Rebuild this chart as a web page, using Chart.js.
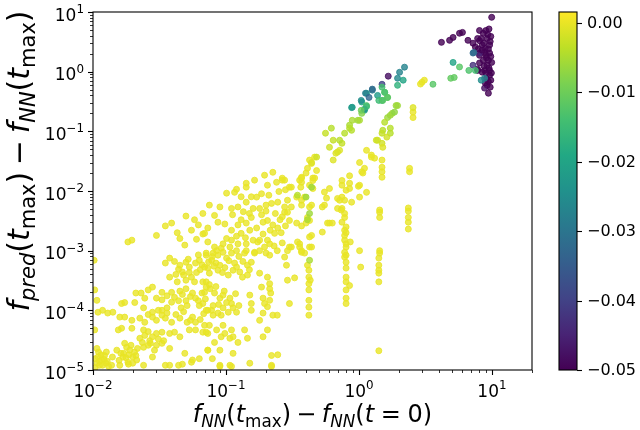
<!DOCTYPE html>
<html><head><meta charset="utf-8">
<script src="https://cdn.jsdelivr.net/npm/chart.js@4.4.1/dist/chart.umd.min.js"></script>
<style>html,body{margin:0;padding:0;background:#fff;}canvas{display:block}</style>
</head><body>
<canvas id="c" width="640" height="430"></canvas>
<script>
const xTickValues = [0.01, 0.1, 1, 10];
const xTickLabels = [['10', '−2'], ['10', '−1'], ['10', '0'], ['10', '1']];
const yTickValues = [1e-5, 1e-4, 1e-3, 1e-2, 1e-1, 1, 10];
const yTickLabels = [['10', '−5'], ['10', '−4'], ['10', '−3'], ['10', '−2'], ['10', '−1'], ['10', '0'], ['10', '1']];
const colorTickValues = [0, -0.01, -0.02, -0.03, -0.04, -0.05];
const colorTickLabels = ['0.00', '−0.01', '−0.02', '−0.03', '−0.04', '−0.05'];
const colorMin = -0.05, colorMax = 0.0016;
const yellowValue = 0;

// points with colour value ~0 : [x, y]
const yellowPts = [
[0.0377,7.5e-4],[0.035,6.2e-4],[0.045,5.7e-4],[0.050,6.4e-4],[0.053,5.3e-4],[0.059,6.2e-4],[0.063,6.9e-4],[0.071,8.4e-4],[0.069,5.3e-4],[0.047,4.4e-4],[0.053,4.3e-4],[0.060,4.3e-4],[0.0377,3.6e-4],[0.043,3.0e-4],[0.050,3.2e-4],[0.058,3.0e-4],[0.067,3.0e-4],[0.071,2.45e-4],[0.028,2.45e-4],[0.033,2.0e-4],[0.039,2.0e-4],[0.045,2.1e-4],[0.050,2.3e-4],[0.056,1.95e-4],[0.066,1.95e-4],[0.021,1.95e-4],[0.023,1.95e-4],[0.0245,1.6e-4],[0.030,1.6e-4],[0.033,1.5e-4],[0.039,1.37e-4],[0.044,1.45e-4],[0.050,1.45e-4],[0.059,1.6e-4],[0.067,1.3e-4],[0.0164,1.3e-4],[0.0173,1.35e-4],[0.0206,1.35e-4],[0.024,1.1e-4],[0.028,9.3e-5],[0.031,1.0e-4],[0.033,1.0e-4],[0.036,1.1e-4],[0.046,1.1e-4],[0.051,1.2e-4],[0.063,1.2e-4],[0.073,1.0e-4],
[0.0109,9.3e-5],[0.0118,1.0e-4],[0.0129,9.0e-5],[0.0141,9.3e-5],[0.0159,7.7e-5],[0.0173,7.7e-5],[0.0196,6.8e-5],[0.0225,7.4e-5],[0.0245,6.3e-5],[0.028,7.7e-5],[0.033,8.3e-5],[0.035,7.4e-5],[0.039,6.3e-5],[0.045,7.4e-5],[0.051,6.3e-5],[0.056,7.7e-5],[0.059,6.3e-5],[0.069,5.6e-5],[0.0107,1.47e-4],[0.0103,2.2e-4],
[0.0155,4.7e-5],[0.0164,5.0e-5],[0.0196,5.0e-5],[0.024,4.7e-5],[0.0245,3.8e-5],[0.0225,3.4e-5],[0.0267,3.1e-5],[0.030,4.1e-5],[0.033,4.3e-5],[0.034,3.1e-5],[0.0377,4.1e-5],[0.041,4.3e-5],[0.045,3.6e-5],[0.053,4.7e-5],[0.059,4.7e-5],[0.067,4.3e-5],[0.073,4.1e-5],[0.0103,4.7e-5],
[0.0179,2.4e-5],[0.0189,2.15e-5],[0.0168,1.65e-5],[0.0151,2.15e-5],[0.0199,1.65e-5],[0.0213,1.47e-5],[0.0183,1.35e-5],[0.0216,2.3e-5],[0.024,2.4e-5],[0.026,2.6e-5],[0.029,2.15e-5],[0.033,2.8e-5],[0.0377,2.3e-5],[0.049,1.9e-5],[0.0107,2.3e-5],[0.014,1.65e-5],[0.0109,1.65e-5],[0.0116,1.47e-5],[0.0122,1.75e-5],[0.0107,1.3e-5],[0.0112,1.2e-5],[0.0125,1.3e-5],[0.028,1.65e-5],[0.035,1.2e-5],[0.0377,1.2e-5],[0.044,1.2e-5],[0.073,2.15e-5],[0.056,1.47e-5],[0.063,1.55e-5],[0.0138,1.2e-5],[0.0159,1.2e-5],[0.024,1.2e-5],[0.0199,1.3e-5],[0.047,1.25e-5],[0.055,1.35e-5],[0.090,1.15e-5],[0.11,1.15e-5],[0.151,1.3e-5],[0.22,1.2e-5],
[0.071,9.1e-4],[0.078,6.9e-4],[0.087,8.4e-4],[0.095,9.4e-4],[0.101,7.5e-4],[0.11,9.1e-4],[0.116,6.2e-4],[0.090,5.7e-4],[0.073,5.1e-4],[0.075,4.2e-4],[0.087,4.7e-4],[0.104,3.9e-4],[0.113,4.7e-4],[0.127,4.4e-4],[0.145,3.9e-4],[0.145,5.7e-4],[0.155,6.4e-4],[0.138,9.1e-4],[0.164,9.1e-4],[0.2,9.1e-4],[0.213,8.4e-4],[0.276,7.8e-4],[0.285,5.7e-4],[0.179,4.2e-4],[0.29,3.2e-4],[0.328,3.5e-4],[0.39,9.1e-4],[0.41,5.7e-4],[0.42,4.7e-4],[0.42,3.6e-4],[0.42,2.8e-4],[0.42,2.2e-4],[0.42,1.47e-4],[0.42,1.13e-4],[0.42,8.3e-5],[0.30,1.3e-4],[0.205,3.6e-4],[0.213,2.8e-4],[0.213,2.3e-4],[0.217,1.95e-4],[0.213,1.47e-4],[0.205,1.15e-4],[0.225,8.3e-5],[0.243,8.3e-5],[0.185,2.45e-4],[0.19,1.6e-4],[0.195,1.3e-4],[0.19,9e-5],[0.179,6.8e-5],[0.205,4.7e-5],[0.19,3.6e-5],[0.071,3.0e-4],[0.075,2.7e-4],[0.069,2.0e-4],[0.082,1.95e-4],[0.09,1.6e-4],[0.095,1.8e-4],[0.107,1.6e-4],[0.11,1.3e-4],[0.113,1.1e-4],[0.12,9.3e-5],[0.104,9.3e-5],[0.092,8.3e-5],[0.087,9e-5],[0.08,8.3e-5],[0.078,1.0e-4],[0.071,1.0e-4],[0.075,5.6e-5],[0.071,4.3e-5],[0.085,4.7e-5],[0.095,5.6e-5],[0.098,4.1e-5],[0.11,4.7e-5],[0.113,3.6e-5],[0.123,2.9e-5],[0.138,4.7e-5],[0.145,3.4e-5],[0.151,1.8e-4],[0.155,1.3e-4],[0.155,1.0e-4],[0.082,2.9e-5],[0.092,3.6e-5],[0.107,3.4e-5],[0.073,2.15e-5],[0.09,2.15e-5],[0.079,1.55e-5],[0.113,1.9e-5],[0.22,1.75e-5],[0.245,1.8e-5],[0.09,1.2e-5],[0.107,1.2e-5],[0.22,1.15e-5],
[0.195,0.0184],[0.225,0.0206],[0.142,0.0135],[0.142,0.0116],[0.164,0.0152],[0.205,0.0125],[0.24,0.014],[0.265,0.0152],[0.116,9.5e-3],[0.101,9.2e-3],[0.17,7.9e-3],[0.142,6.5e-3],[0.123,5.4e-3],[0.11,5.1e-3],[0.09,5.4e-3],[0.075,5.8e-3],[0.067,4.2e-3],[0.082,3.9e-3],[0.087,3.0e-3],[0.098,2.8e-3],[0.11,2.2e-3],[0.123,2.7e-3],[0.05,3.8e-3],[0.039,2.9e-3],[0.035,2.6e-3],[0.073,2.4e-3],[0.067,1.9e-3],[0.06,1.55e-3],[0.049,1.24e-3],[0.073,1.4e-3],[0.16,5.1e-3],[0.179,5.1e-3],[0.20,5.8e-3],[0.22,6.2e-3],[0.245,6.5e-3],[0.276,5.4e-3],[0.29,4.4e-3],[0.30,3.2e-3],[0.155,3.6e-3],[0.142,2.9e-3],[0.13,1.95e-3],[0.151,2.2e-3],[0.17,2.4e-3],[0.19,3.0e-3],[0.205,3.2e-3],[0.225,2.7e-3],[0.232,1.95e-3],[0.205,1.5e-3],[0.179,1.5e-3],[0.16,1.5e-3],[0.142,1.3e-3],[0.11,1.5e-3],[0.101,1.6e-3],[0.092,1.1e-3],[0.107,1.15e-3],[0.12,1.0e-3],[0.082,1.15e-3],[0.08,9.1e-4],[0.179,1.0e-3],[0.243,1.0e-3],[0.265,1.35e-3],[0.29,1.0e-3],[0.0196,1.5e-3],[0.0183,1.4e-3],[0.31,0.0116],[0.358,0.0152],[0.37,7.0e-3],[0.425,5.4e-3],[0.34,2.9e-3],[0.37,2.6e-3],[0.425,3.2e-3],[0.31,1.15e-3],[0.345,1.4e-3],[0.358,1.15e-3],[0.37,9.4e-4],[0.425,1.7e-3],[0.44,1.15e-3],[0.069,1.95e-3],[0.095,1.3e-3],[0.085,1.0e-3],[0.123,1.3e-3],[0.173,1.4e-3],[0.213,1.3e-3],[0.142,1.0e-3],[0.164,9.4e-4],[0.0102,6.9e-4],[0.265,3.7e-3],
[1.14,0.048],[1.24,0.040],[1.31,0.0355],[1.49,0.033],[1.49,0.025],[1.49,0.021],[1.49,0.017],[1.01,0.030],[1.10,0.024],[1.05,0.021],[1.01,0.0125],[1.14,9.5e-3],[1.01,7.9e-3],[0.85,0.0135],[0.80,0.0103],[0.745,7.9e-3],[0.715,7.0e-3],[0.69,5.1e-3],[0.78,3.6e-3],[0.745,3.0e-3],[0.80,2.5e-3],[0.80,2.0e-3],[0.78,1.5e-3],[0.80,1.15e-3],[0.80,8.4e-4],[0.60,0.011],[0.55,9.6e-3],[0.57,7.6e-3],[0.53,5.4e-3],[0.60,2.9e-3],[0.53,2.05e-3],[1.01,1.0e-3],[1.43,4.4e-3],[1.43,3.6e-3],[1.43,9.1e-4],[0.41,0.024],[0.45,0.0165],[0.40,0.020],[0.37,0.0165],[0.365,0.0116],[0.34,7.9e-3],[0.39,7.9e-3],[0.37,5.8e-3],[0.41,3.6e-3],[0.40,2.9e-3],[0.31,5.4e-3],[0.29,7.0e-3],[0.276,4.4e-3],[0.276,0.0152],[0.358,1.3e-3],[0.37,1.0e-3],[0.425,1.15e-3],[0.30,1.15e-3],
[1.43,4.8e-3],[1.43,1.0e-3],[1.41,7.5e-4],[1.41,5.7e-4],[1.41,4.7e-4],[1.41,4.2e-4],[1.41,3.0e-4],[1.41,2.1e-5],[2.35,5.2e-3],[2.35,4.6e-3],[2.35,3.6e-3],[2.35,3.0e-3],[2.35,2.3e-3],[0.78,7.0e-3],[0.745,5.1e-3],[0.78,4.2e-3],[0.78,2.2e-3],[0.78,1.8e-3],[0.80,1.3e-3],[0.78,9.4e-4],[0.78,7.8e-4],[0.80,6.4e-4],[0.80,5.1e-4],[0.80,3.6e-4],[0.80,3.0e-4],[0.80,2.2e-4],[0.80,1.6e-4],[0.80,1.3e-4],[0.85,2.6e-4],[0.86,1.4e-3],[0.88,6.5e-3],[1.03,5.3e-4],[0.99,0.012],[0.55,5.8e-3],[0.58,2.9e-3],[0.63,2.9e-3],[0.44,5.8e-3],[0.44,1.8e-3],[0.43,3.2e-4],[0.69,7.5e-3],[0.735,4.8e-3],[0.85,0.011],[0.745,0.0125],
[2.98,0.665],[2.9,0.62],[3.1,0.72],[2.55,0.21],[2.55,0.17],[2.4,0.024],[2.4,0.021],[0.425,0.033],[0.464,0.037],[0.48,0.022],[0.45,0.015],[1.24,0.037],[1.07,0.02],[0.85,0.018],[0.745,0.015],
[0.0104,1.1e-5],[0.0112,1.4e-5],[0.0118,1.2e-5],[0.0104,1.55e-5],[0.0115,1.8e-5],[0.0121,1.5e-5],[0.0128,1.4e-5],[0.0131,1.15e-5],[0.0110,2.0e-5],[0.0126,2.0e-5],
[0.0170,1.9e-5],[0.0177,1.6e-5],[0.0186,1.8e-5],[0.0193,2.6e-5],[0.0205,2.0e-5],[0.0173,2.8e-5],[0.0185,1.25e-5],[0.0210,1.75e-5],[0.0157,1.45e-5],[0.0162,1.9e-5],
[0.026,4.4e-5],[0.028,3.6e-5],[0.031,3.3e-5],[0.027,2.8e-5],[0.030,2.6e-5],[0.0235,2.9e-5],
[0.041,6.6e-4],[0.044,4.9e-4],[0.048,3.9e-4],[0.052,7.2e-4],[0.055,3.6e-4],[0.042,4.0e-4],[0.062,8.5e-4],[0.066,5.8e-4],[0.074,6.5e-4],[0.064,4.8e-4],
[0.026,2.2e-4],[0.036,1.75e-4],[0.041,1.65e-4],[0.047,1.85e-4],[0.054,1.7e-4],[0.062,1.45e-4],[0.070,1.55e-4],[0.036,9.0e-5],[0.042,8.5e-5],[0.048,9.5e-5],[0.054,6.8e-5],[0.064,7.0e-5],[0.068,8.8e-5],[0.030,6.8e-5],[0.026,8.5e-5],
[0.079,8.0e-4],[0.084,6.2e-4],[0.098,5.2e-4],[0.105,6.8e-4],[0.094,4.3e-4],[0.081,5.5e-4],[0.125,8.0e-4],[0.134,6.6e-4],[0.12,5.3e-4],[0.133,3.6e-4],[0.15,4.8e-4],
[0.076,2.3e-4],[0.084,2.5e-4],[0.097,2.1e-4],[0.101,1.35e-4],[0.088,1.25e-4],[0.095,1.1e-4],[0.118,1.9e-4],[0.125,1.2e-4],[0.08,1.2e-4],
[0.112,4.0e-3],[0.13,3.3e-3],[0.135,4.5e-3],[0.15,4.2e-3],[0.185,4.0e-3],[0.2,4.6e-3],[0.235,4.2e-3],[0.255,3.3e-3],[0.12,1.75e-3],[0.14,1.65e-3],[0.19,1.9e-3],[0.215,2.2e-3],[0.245,2.4e-3],[0.26,2.0e-3],[0.28,2.6e-3],[0.195,1.15e-3],[0.23,1.2e-3],[0.155,8.0e-3],[0.185,9.0e-3],[0.21,8.5e-3],[0.25,9.8e-3],[0.28,0.0105],[0.13,8.0e-3],
[0.045,1.6e-3],[0.055,2.2e-3],[0.058,3.3e-3],[0.062,2.7e-3],[0.043,2.0e-3],[0.03,1.8e-3],
[0.265,0.0164],[0.37,0.017],[0.44,0.029],[0.37,0.014],[0.425,0.0125],[0.464,0.0165],[0.30,0.0116],[0.12,0.0107],[0.45,0.011]
];

// points with a colour value: [x, y, value]
const colorPts = [
[1.14,0.435,-0.022],[1.26,0.49,-0.03],[1.38,0.40,-0.022],[1.49,0.33,-0.016],[1.56,0.45,-0.013],[1.64,0.37,-0.01],[1.9,0.27,-0.006],[1.78,0.20,-0.006],[1.64,0.17,-0.006],[1.56,0.142,-0.004],[1.51,0.104,-0.004],[1.72,0.113,-0.004],[1.49,0.093,-0.003],[1.72,0.093,-0.004],[1.35,0.071,-0.002],[1.49,0.063,-0.002],[1.51,0.054,-0.001],
[1.05,0.31,-0.02],[1.14,0.27,-0.012],[1.1,0.225,-0.02],[1.05,0.20,-0.008],[0.98,0.153,-0.006],[0.89,0.153,-0.005],[0.85,0.127,-0.005],[0.88,0.104,-0.004],[0.89,0.253,-0.022],[0.78,0.093,-0.004],[0.745,0.063,-0.003],[0.715,0.071,-0.004],[0.62,0.113,-0.004],[0.56,0.093,-0.003],[0.64,0.071,-0.003],[0.69,0.045,-0.002],[0.64,0.033,-0.001],[0.48,0.037,-0.002],[0.44,0.030,-0.001],[0.60,0.054,-0.002],
[0.425,6.9e-4,-0.005],[0.345,8.5e-3,-0.004],[0.40,7.9e-3,-0.006],[0.44,0.0116,-0.006],[0.425,4.2e-3,-0.006],[0.41,3.3e-3,-0.005],
[3.6,0.615,-0.012],[4.9,0.775,-0.011],[5.2,0.80,-0.011],[2.2,1.19,-0.027],[2.02,0.977,-0.027],[1.66,0.84,-0.048],[1.95,0.775,-0.026],[1.49,0.615,-0.04],[1.26,0.51,-0.032],[1.12,0.435,-0.028],[1.19,0.37,-0.033],[1.04,0.33,-0.025],[0.88,0.25,-0.022],[1.1,0.235,-0.024],[1.49,0.55,-0.014],[1.56,0.45,-0.013],[1.64,0.37,-0.012],[1.41,0.33,-0.015],[1.51,0.33,-0.012],[1.95,0.59,-0.017],[2.15,0.72,-0.02],[2.55,0.25,-0.001],[1.95,0.27,-0.006],[1.72,0.186,-0.006],[1.85,0.21,-0.007],[1.14,0.26,-0.015],[1.04,0.225,-0.01],[1.01,0.153,-0.005],[0.85,0.113,-0.004],[1.38,0.071,-0.002],[1.62,0.08,-0.002],[0.67,0.043,-0.001],[0.715,0.048,-0.001],
[9.95,8.15,-0.05],[8.06,4.9,-0.05],[9.0,4.9,-0.05],[7.8,3.6,-0.05],[8.3,3.6,-0.05],[9.2,3.6,-0.05],[8.45,2.8,-0.05],[9.6,2.8,-0.05],[8.8,2.1,-0.05],[9.6,2.05,-0.05],[9.1,1.7,-0.05],[9.95,1.43,-0.05],[9.2,1.28,-0.05],[8.8,1.05,-0.05],[9.6,1.05,-0.05],[9.6,0.87,-0.05],[9.1,0.775,-0.05],[9.2,0.59,-0.05],[9.4,0.435,-0.05],[8.06,3.3,-0.05],[8.6,1.55,-0.05],[8.9,2.45,-0.05],[9.8,0.72,-0.05],[8.8,0.53,-0.048],[8.06,1.4,-0.05],[7.8,1.1,-0.05],[4.17,3.1,-0.05],[4.8,3.35,-0.05],[5.1,3.75,-0.05],[5.7,4.4,-0.05],[6.0,4.55,-0.05],[6.6,3.35,-0.05],[7.2,3.0,-0.05],[8.06,1.88,-0.05],[8.45,0.98,-0.05],[8.06,2.05,-0.045],[7.8,1.05,-0.05],
[9.3,4.2,-0.05],[9.7,3.2,-0.05],[8.7,3.0,-0.05],[9.4,2.4,-0.05],[8.4,2.3,-0.05],[9.0,1.9,-0.05],[9.8,1.8,-0.05],[9.4,1.55,-0.05],[8.7,1.25,-0.05],[9.5,1.15,-0.05],[9.0,0.95,-0.05],[9.9,0.95,-0.05],[9.4,0.68,-0.05],[8.9,0.65,-0.05],[9.7,0.55,-0.05],[9.5,5.2,-0.05],[8.6,4.4,-0.05],[9.8,3.9,-0.05],[7.5,2.6,-0.05],[7.9,2.4,-0.05],
[7.3,2.1,-0.032],[7.2,1.28,-0.043],[6.7,1.05,-0.013],[7.5,1.05,-0.014],[5.7,1.2,-0.012],[5.1,1.43,-0.02],[8.3,0.72,-0.025],[7.2,2.05,-0.032],[8.8,0.775,-0.028]
];

const VIR = [[68,1,84],[72,36,117],[65,68,135],[53,95,141],[42,120,142],[33,145,140],[34,168,132],[68,191,112],[122,209,81],[189,223,38],[253,231,37]];
function viridis(t){
  t = Math.max(0, Math.min(1, t));
  const s = t * 10, i = Math.min(9, Math.floor(s)), f = s - i, a = VIR[i], b = VIR[i + 1];
  return [0,1,2].map(k => Math.round(a[k] + (b[k] - a[k]) * f));
}
function colorFor(v, alpha){
  const c = viridis((v - colorMin) / (colorMax - colorMin));
  return 'rgba(' + c.join(',') + ',' + alpha + ')';
}

const points = yellowPts.map(p => ({x: p[0], y: p[1], c: yellowValue}))
  .concat(colorPts.map(p => ({x: p[0], y: p[1], c: p[2]})));

const FONT = '"DejaVu Sans", "Liberation Sans", sans-serif';

// mathtext-like label: segments [text, style]; style: r regular, i italic, sr/si subscript, sp: space in em
function drawMath(ctx, segs, size, cx, baseline, rotate){
  const fontFor = s => {
    const sub = s[0] === 's', it = s[s.length - 1] === 'i';
    return (it ? 'italic ' : '') + (sub ? size * 0.7 : size) + 'px ' + FONT;
  };
  const widths = segs.map(([t, s]) => {
    if (s === 'sp') return t * size;
    ctx.font = fontFor(s); return ctx.measureText(t).width;
  });
  const w = widths.reduce((p, q) => p + q, 0);
  ctx.save();
  if (rotate) { ctx.translate(baseline, cx); ctx.rotate(-Math.PI / 2); }
  else { ctx.translate(cx, baseline); }
  ctx.fillStyle = '#000';
  ctx.textAlign = 'left';
  ctx.textBaseline = 'alphabetic';
  let x = -w / 2;
  segs.forEach(([t, s], i) => {
    if (s !== 'sp') {
      ctx.font = fontFor(s);
      const dy = s[0] === 's' ? size * 0.2 : 0;
      ctx.fillText(t, x, dy);
    }
    x += widths[i];
  });
  ctx.restore();
}

function drawPow(ctx, base, exp, size, x, baseline, align){
  ctx.font = size + 'px ' + FONT;
  const wb = ctx.measureText(base).width;
  const es = size * 0.7;
  ctx.font = es + 'px ' + FONT;
  const we = ctx.measureText(exp).width;
  const w = wb + we;
  const x0 = align === 'right' ? x - w : x - w / 2;
  ctx.textAlign = 'left';
  ctx.textBaseline = 'alphabetic';
  ctx.font = size + 'px ' + FONT;
  ctx.fillText(base, x0, baseline);
  ctx.font = es + 'px ' + FONT;
  ctx.fillText(exp, x0 + wb, baseline - size * 0.45);
}

const decor = {
  id: 'decor',
  afterDatasetsDraw(chart){
    const ctx = chart.ctx, a = chart.chartArea, xs = chart.scales.x, ys = chart.scales.y;
    ctx.save();
    ctx.strokeStyle = '#000';
    ctx.fillStyle = '#000';
    const tickSet = (scale, horiz) => {
      const lo = Math.floor(Math.log10(scale.min)), hi = Math.ceil(Math.log10(scale.max));
      for (let d = lo; d <= hi; d++) {
        for (let m = 1; m <= 9; m++) {
          const v = m * Math.pow(10, d);
          if (v < scale.min * 0.9999 || v > scale.max * 1.0001) continue;
          const major = m === 1;
          const len = major ? 5 : 3;
          ctx.lineWidth = major ? 1.1 : 0.8;
          const p = Math.round(scale.getPixelForValue(v)) + 0.5;
          ctx.beginPath();
          if (horiz) { ctx.moveTo(p, a.bottom); ctx.lineTo(p, a.bottom + len); }
          else { ctx.moveTo(a.left, p); ctx.lineTo(a.left - len, p); }
          ctx.stroke();
        }
      }
    };
    tickSet(xs, true);
    tickSet(ys, false);
    ctx.lineWidth = 1.1;
    ctx.strokeRect(a.left, a.top, a.right - a.left, a.bottom - a.top);

    // tick labels
    xTickValues.forEach((v, i) => drawPow(ctx, xTickLabels[i][0], xTickLabels[i][1], 17, xs.getPixelForValue(v), a.bottom + 27, 'center'));
    yTickValues.forEach((v, i) => drawPow(ctx, yTickLabels[i][0], yTickLabels[i][1], 17, a.left - 9, ys.getPixelForValue(v) + 8.5, 'right'));

    // colorbar
    const cbL = 559, cbR = 577, cbT = a.top, cbB = a.bottom;
    const g = ctx.createLinearGradient(0, cbB, 0, cbT);
    VIR.forEach((c, i) => g.addColorStop(i / 10, 'rgb(' + c.join(',') + ')'));
    ctx.fillStyle = g;
    ctx.fillRect(cbL, cbT, cbR - cbL, cbB - cbT);
    ctx.lineWidth = 1.1;
    ctx.strokeRect(cbL, cbT, cbR - cbL, cbB - cbT);
    ctx.fillStyle = '#000';
    ctx.font = '16px ' + FONT;
    ctx.textAlign = 'left';
    ctx.textBaseline = 'middle';
    colorTickValues.forEach((v, i) => {
      const y = Math.round(cbB - (v - colorMin) / (colorMax - colorMin) * (cbB - cbT)) + 0.5;
      ctx.beginPath(); ctx.moveTo(cbR, y); ctx.lineTo(cbR + 5, y); ctx.stroke();
      ctx.fillText(colorTickLabels[i], cbR + 10, y);
    });

    // axis titles
    drawMath(ctx, [['f','i'],['NN','si'],['(','r'],['t','i'],['max','sr'],[')','r'],[0.222,'sp'],['−','r'],[0.222,'sp'],['f','i'],['NN','si'],['(','r'],['t','i'],[0.278,'sp'],['=','r'],[0.278,'sp'],['0)','r']], 24, (a.left + a.right) / 2, 422, false);
    drawMath(ctx, [['f','i'],['pred','si'],['(','r'],['t','i'],['max','sr'],[')','r'],[0.222,'sp'],['−','r'],[0.222,'sp'],['f','i'],['NN','si'],['(','r'],['t','i'],['max','sr'],[')','r']], 30, 161, 29, true);
    ctx.restore();
  }
};

new Chart(document.getElementById('c').getContext('2d'), {
  type: 'scatter',
  data: { datasets: [{
    data: points,
    clip: 0,
    pointRadius: 3,
    pointBorderWidth: 1,
    pointHoverRadius: 3,
    backgroundColor: c => colorFor(c.raw ? c.raw.c : 0, 0.8),
    borderColor: c => colorFor(c.raw ? c.raw.c : 0, 0.8)
  }]},
  options: {
    responsive: false,
    animation: false,
    devicePixelRatio: 1,
    layout: { padding: { top: 12, right: 108, left: 0, bottom: 0 } },
    plugins: { legend: { display: false }, tooltip: { enabled: false } },
    events: [],
    scales: {
      x: {
        type: 'logarithmic', min: 0.01, max: 20, bounds: 'data',
        grid: { display: false, drawTicks: false }, border: { display: false },
        afterBuildTicks: s => { s.ticks = xTickValues.map(v => ({ value: v, major: true })); },
        afterFit: s => { s.height = 60; },
        ticks: { display: false }
      },
      y: {
        type: 'logarithmic', min: 1e-5, max: 10, bounds: 'data',
        grid: { display: false, drawTicks: false }, border: { display: false },
        afterBuildTicks: s => { s.ticks = yTickValues.map(v => ({ value: v, major: true })); },
        afterFit: s => { s.width = 93; },
        ticks: { display: false }
      }
    }
  },
  plugins: [decor]
});
</script>
</body></html>
